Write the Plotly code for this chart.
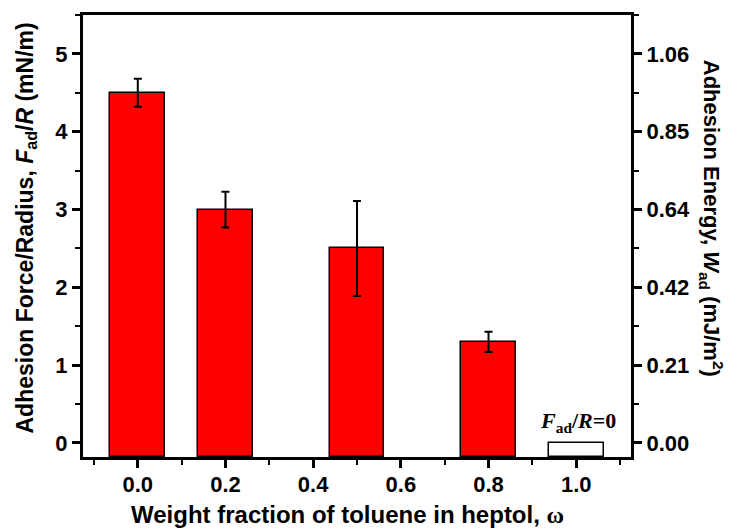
import plotly.graph_objects as go

# Data
x_vals = [0.0, 0.2, 0.5, 0.8, 1.0]
force_vals = [4.5, 3.0, 2.5, 1.3, 0.0]
force_err = [0.18, 0.23, 0.61, 0.13, 0.0]
bar_colors = ["#FF0000", "#FF0000", "#FF0000", "#FF0000", "#FFFFFF"]
x_ticks = [0.0, 0.2, 0.4, 0.6, 0.8, 1.0]
x_ticklabels = ["0.0", "0.2", "0.4", "0.6", "0.8", "1.0"]
x_minor = [-0.1, 0.1, 0.3, 0.5, 0.7, 0.9, 1.1]
y_ticks = [0, 1, 2, 3, 4, 5]
energy_ticklabels = ["0.00", "0.21", "0.42", "0.64", "0.85", "1.06"]
ENERGY_FACTOR = 0.212  # W_ad per F_ad/R

YMIN, YMAX = -0.18, 5.5
XMIN, XMAX = -0.125, 1.125

FONT = "Liberation Sans, Arial, sans-serif"
SERIF = "Liberation Serif, Times New Roman, serif"

fig = go.Figure()

fig.add_trace(go.Bar(
    x=x_vals,
    y=[v - YMIN for v in force_vals],
    base=YMIN,
    width=0.125,
    marker=dict(color=bar_colors, line=dict(color="black", width=1.5)),
    showlegend=False,
    hoverinfo="skip",
))

fig.add_trace(go.Scatter(
    x=x_vals[:4],
    y=force_vals[:4],
    mode="markers",
    marker=dict(size=0.1, color="rgba(0,0,0,0)"),
    error_y=dict(type="data", array=force_err[:4], color="black", thickness=2, width=4),
    showlegend=False,
    hoverinfo="skip",
))

# invisible trace for the right axis
fig.add_trace(go.Scatter(
    x=[x_vals[0]], y=[0], yaxis="y2", mode="markers",
    marker=dict(size=0.1, color="rgba(0,0,0,0)"), showlegend=False, hoverinfo="skip",
))

tickfont = dict(family=FONT, size=22, color="black", weight="bold")
major = dict(ticks="outside", ticklen=8, tickwidth=2.5, tickcolor="black")
minor_style = dict(ticks="outside", ticklen=5, tickwidth=2, tickcolor="black")

fig.update_layout(
    width=734, height=529,
    margin=dict(l=83, r=103, t=12, b=72),
    plot_bgcolor="white", paper_bgcolor="white",
    bargap=0,
    xaxis=dict(
        range=[XMIN, XMAX],
        tickvals=x_ticks, ticktext=x_ticklabels,
        **major,
        minor=dict(tickvals=x_minor, **minor_style),
        showline=True, linecolor="black", linewidth=3, mirror=True,
        showgrid=False, zeroline=False,
        tickfont=tickfont, ticklabelstandoff=-2,
    ),
    yaxis=dict(
        range=[YMIN, YMAX],
        tickvals=y_ticks,
        **major,
        minor=dict(dtick=0.5, **minor_style),
        showline=True, linecolor="black", linewidth=3, mirror=True,
        showgrid=False, zeroline=False,
        tickfont=tickfont,
    ),
    yaxis2=dict(
        overlaying="y", side="right",
        range=[YMIN * ENERGY_FACTOR, YMAX * ENERGY_FACTOR],
        tickvals=[t * ENERGY_FACTOR for t in y_ticks], ticktext=energy_ticklabels,
        **major,
        minor=dict(tickvals=[(t + 0.5) * ENERGY_FACTOR for t in y_ticks], **minor_style),
        showline=True, linecolor="black", linewidth=3,
        showgrid=False, zeroline=False,
        tickfont=tickfont,
    ),
    annotations=[
        dict(text="Weight fraction of toluene in heptol, <span style='font-family:Liberation Serif'>ω</span>",
             xref="paper", yref="paper", x=0.482, y=-0.131, xanchor="center", yanchor="middle",
             showarrow=False, font=dict(family=FONT, size=24, color="black", weight="bold")),
        dict(text="Adhesion Force/Radius, <i>F</i><sub>ad</sub>/<i>R</i> (mN/m)",
             xref="paper", yref="paper", x=-0.104, y=0.517, textangle=-90,
             xanchor="center", yanchor="middle",
             showarrow=False, font=dict(family=FONT, size=23, color="black", weight="bold")),
        dict(text="Adhesion Energy, <i>W</i><sub>ad</sub> (mJ/m<sup>2</sup>)",
             xref="paper", yref="paper", x=1.147, y=0.54, textangle=90,
             xanchor="center", yanchor="middle",
             showarrow=False, font=dict(family=FONT, size=22, color="black", weight="bold")),
        dict(text="<b><i>F</i><sub>ad</sub>/<i>R</i>=0</b>",
             xref="x", yref="y", x=1.005, y=0.07, yanchor="bottom",
             showarrow=False, font=dict(family=SERIF, size=22, color="black")),
    ],
)

fig.write_html("out.html")
